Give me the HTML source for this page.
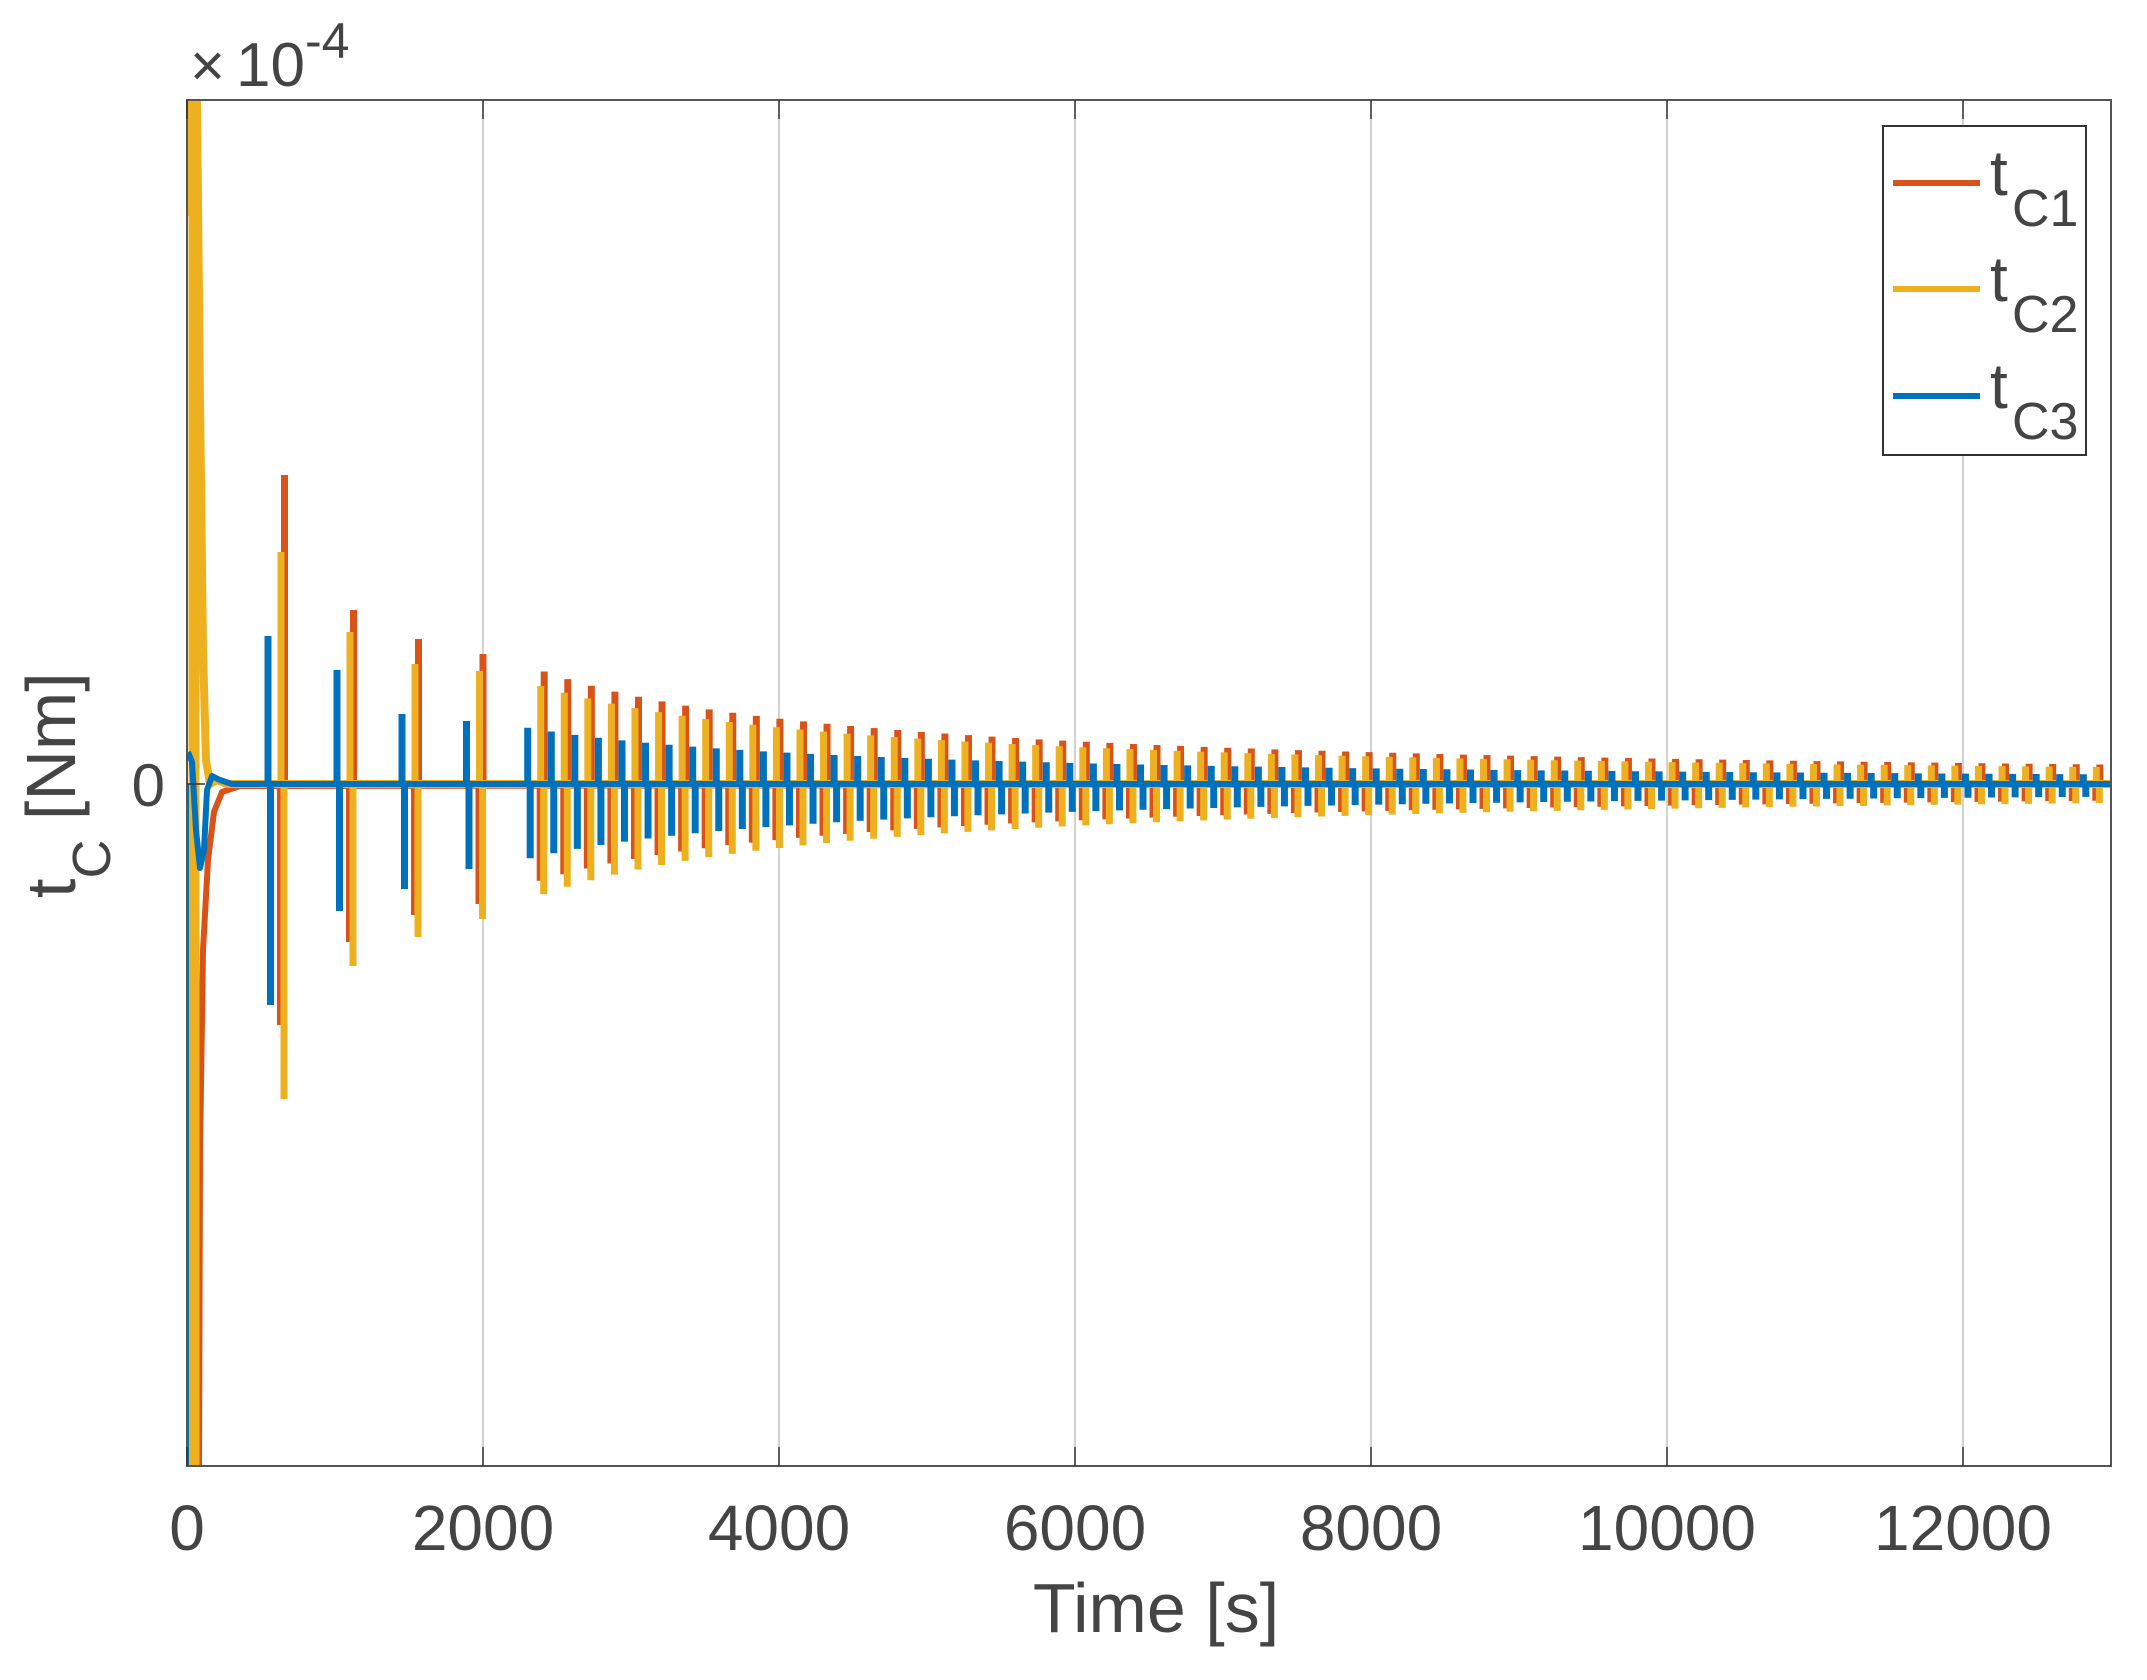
<!DOCTYPE html>
<html><head><meta charset="utf-8"><style>
html,body{margin:0;padding:0;background:#fff;}
svg{display:block;}
text{font-family:"Liberation Sans",sans-serif;fill:#444;}
</style></head><body>
<svg id="s" width="2147" height="1680" viewBox="0 0 2147 1680" xmlns="http://www.w3.org/2000/svg">
<rect width="2147" height="1680" fill="#fff"/>
<g id="grid" stroke="#c4c4c4" stroke-width="1.5"></g>
<clipPath id="c"><rect x="187" y="100" width="1924" height="1366"/></clipPath>
<g id="plot" clip-path="url(#c)" fill="none" stroke-linejoin="round"></g>
<rect x="187" y="100" width="1924" height="1366" fill="none" stroke="#555" stroke-width="2"/>
<g id="ticks" stroke="#333" stroke-width="1.5"></g>
<g id="xl" font-size="64" text-anchor="middle"></g>
<text x="165" y="806" font-size="60" text-anchor="end">0</text>
<text x="190" y="86" font-size="60">×</text>
<text x="236" y="86" font-size="62">10</text>
<text x="305" y="58" font-size="50">-4</text>
<text x="1156" y="1632" font-size="70" text-anchor="middle">Time [s]</text>
<text transform="translate(75,898) rotate(-90)" font-size="70">t<tspan dy="35" font-size="54">C</tspan><tspan dy="-35"> [Nm]</tspan></text>
<g>
<rect x="1883" y="126" width="203" height="329" fill="#fff" stroke="#333" stroke-width="2"/>
<line x1="1893" y1="183" x2="1980" y2="183" stroke="#D95319" stroke-width="6"/>
<line x1="1893" y1="289" x2="1980" y2="289" stroke="#EDB120" stroke-width="6"/>
<line x1="1893" y1="396" x2="1980" y2="396" stroke="#0072BD" stroke-width="6"/>
<text x="1990" y="195" font-size="64">t<tspan x="2012" y="226" font-size="52">C1</tspan></text>
<text x="1990" y="301" font-size="64">t<tspan x="2012" y="332" font-size="52">C2</tspan></text>
<text x="1990" y="408" font-size="64">t<tspan x="2012" y="439" font-size="52">C3</tspan></text>
</g>
</svg>
<script>
(function(){
var NS="http://www.w3.org/2000/svg";
function el(p,tag,a){var e=document.createElementNS(NS,tag);for(var k in a)e.setAttribute(k,a[k]);document.getElementById(p).appendChild(e);return e;}
var X0=187,K=0.148,Z=784;
function X(t){return X0+K*t;}
for(var t=2000;t<=12000;t+=2000){var x=X(t);el("grid","line",{x1:x,y1:100,x2:x,y2:1466});}
for(var t=0;t<=12000;t+=2000){var x=X(t);
 el("ticks","line",{x1:x,y1:1466,x2:x,y2:1447});el("ticks","line",{x1:x,y1:100,x2:x,y2:119});
 var tx=el("xl","text",{x:x,y:1550});tx.textContent=String(t);}
el("ticks","line",{x1:187,y1:Z,x2:205,y2:Z});
var ev=[[268,309,241,232,315,148,221],[337,174,158,152,182,114,127],[402,145,131,120,153,70,105],[466.5,130,120,113,135,63,85]];
for(var n=0;n<67;n++){var xb=527.7+23.57*n;var to=(xb+16-187)/K;var A=247600/(to-209);
 ev.push([xb,A,0.86*A,0.87*A,0.98*A,0.5*A,0.66*A]);}
var o="",y="",b="";
ev.forEach(function(e){var xb=e[0];
 o+="M"+(xb+16.5)+","+Z+"V"+(Z-e[1])+"M"+(xb+12.5)+","+Z+"V"+(Z+e[2]);
 y+="M"+(xb+13)+","+Z+"V"+(Z-e[3])+"M"+(xb+16)+","+Z+"V"+(Z+e[4]);
 b+="M"+xb+","+Z+"V"+(Z-e[5])+"M"+(xb+2.5)+","+Z+"V"+(Z+e[6]);
});
var W=7;
// orange
el("plot","path",{d:"M196,100V216",stroke:"#D95319","stroke-width":8});
el("plot","path",{d:"M199,1466L200,1153L203,950L208,860L214,812L222,792L240,786L2111,784",stroke:"#D95319","stroke-width":6});
el("plot","path",{d:o,stroke:"#D95319","stroke-width":W});
// yellow
el("plot","path",{d:"M197,100L200,400L203,650L206,760L210,784L217,780L227,784L2111,784",stroke:"#EDB120","stroke-width":8});
el("plot","path",{d:"M194,216V1466",stroke:"#EDB120","stroke-width":11});
el("plot","path",{d:"M191,100V216",stroke:"#EDB120","stroke-width":7});
el("plot","path",{d:y,stroke:"#EDB120","stroke-width":W});
// blue
el("plot","path",{d:"M187.5,1466V784",stroke:"#0072BD","stroke-width":3});
el("plot","path",{d:"M188,752L192,762L196,830L200,868L204,850L207,790L212,776L220,780L232,784L2111,784",stroke:"#0072BD","stroke-width":6});
el("plot","path",{d:b,stroke:"#0072BD","stroke-width":W});
})();
</script>
</body></html>
